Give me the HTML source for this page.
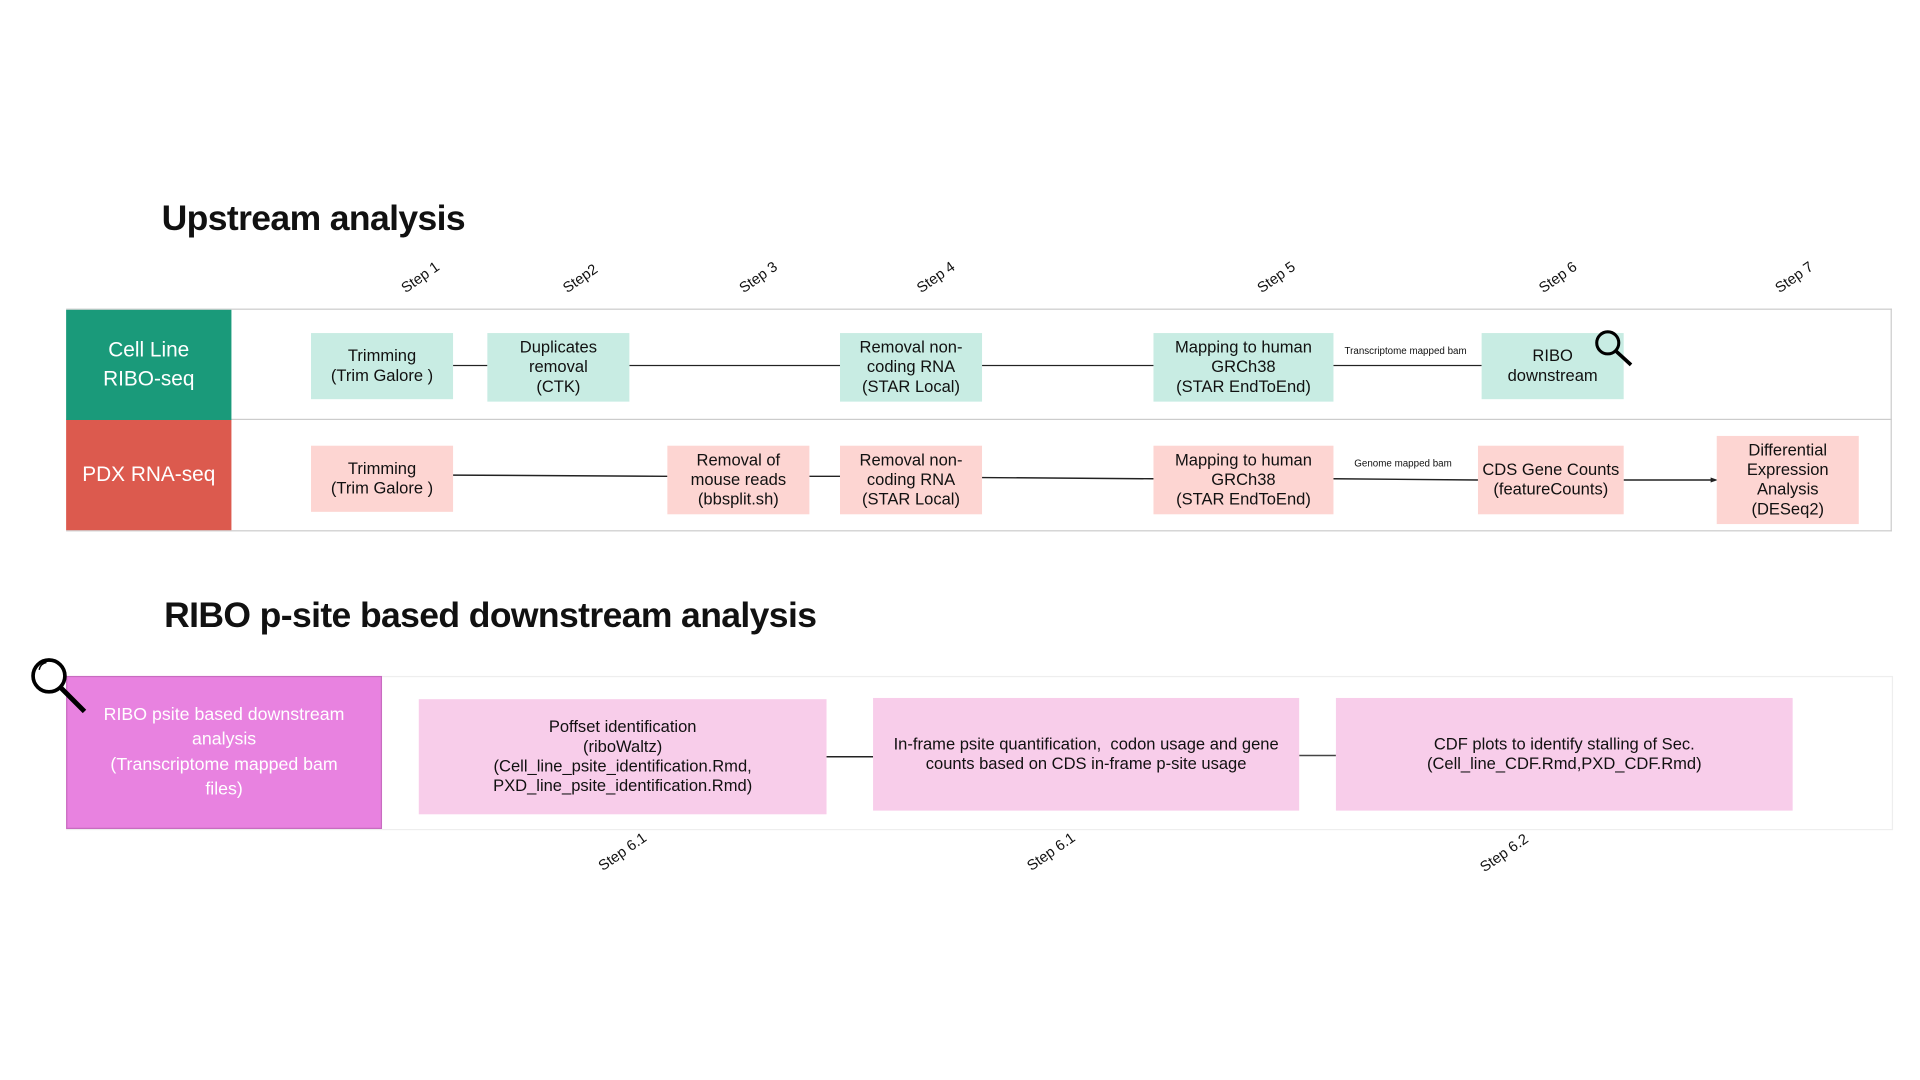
<!DOCTYPE html>
<html><head><meta charset="utf-8"><style>
html,body{margin:0;padding:0;background:#fff;width:1920px;height:1080px;overflow:hidden}
#w{position:absolute;left:0;top:0;width:1568px;height:882px;transform:scale(1.22449);transform-origin:0 0;font-family:"Liberation Sans",sans-serif;color:#111}
.a{position:absolute}
.b{position:absolute;display:flex;align-items:center;justify-content:center;text-align:center;font-size:13.5px;line-height:16px}
.g{background:#c8ece3}.p{background:#fdd5d2}.m{background:#f8cdea}
.h{position:absolute;font-weight:bold;font-size:29px;letter-spacing:-0.5px}
.s{position:absolute;font-size:12px;transform:rotate(-35deg);transform-origin:0 100%;white-space:nowrap}
.l{position:absolute;height:1.3px;background:#222}
</style></head><body><div id="w">
<div class="h" style="left:132px;top:163px">Upstream analysis</div>
<div class="s" style="left:333px;top:228px">Step 1</div>
<div class="s" style="left:465px;top:228px">Step2</div>
<div class="s" style="left:609px;top:228px">Step 3</div>
<div class="s" style="left:754px;top:228px">Step 4</div>
<div class="s" style="left:1032px;top:228px">Step 5</div>
<div class="s" style="left:1262px;top:228px">Step 6</div>
<div class="s" style="left:1455px;top:228px">Step 7</div>

<div class="a" style="left:54px;top:252px;width:1490px;height:180px;border:1px solid #ccc;border-left:none"></div>
<div class="a" style="left:54px;top:342px;width:1491px;height:1px;background:#ccc"></div>
<div class="b" style="left:54px;top:253px;width:135px;height:90px;background:#1a9a7a;color:#fff;font-size:17px;line-height:24px">Cell Line<br>RIBO-seq</div>
<div class="b" style="left:54px;top:343px;width:135px;height:90px;background:#dc5a4e;color:#fff;font-size:17px">PDX RNA-seq</div>

<div class="l" style="left:370px;top:298px;width:28px"></div>
<div class="l" style="left:514px;top:298px;width:172px"></div>
<div class="l" style="left:802px;top:298px;width:140px"></div>
<div class="l" style="left:1089px;top:298px;width:121px"></div>
<div class="a" style="left:1098px;top:282px;font-size:8px">Transcriptome mapped bam</div>
<div class="b g" style="left:254px;top:272px;width:116px;height:54px">Trimming<br>(Trim Galore )</div>
<div class="b g" style="left:398px;top:272px;width:116px;height:56px">Duplicates<br>removal<br>(CTK)</div>
<div class="b g" style="left:686px;top:272px;width:116px;height:56px">Removal non-<br>coding RNA<br>(STAR Local)</div>
<div class="b g" style="left:942px;top:272px;width:147px;height:56px">Mapping to human<br>GRCh38<br>(STAR EndToEnd)</div>
<div class="b g" style="left:1210px;top:272px;width:116px;height:54px">RIBO<br>downstream</div>
<svg class="a" style="left:1300px;top:268px" width="36" height="34"><circle cx="13" cy="12" r="9" fill="none" stroke="#000" stroke-width="2.5"/><line x1="20" y1="19" x2="32" y2="30" stroke="#000" stroke-width="3"/></svg>

<svg class="a" style="left:0;top:0" width="1568" height="882">
<line x1="370" y1="388" x2="545" y2="389" stroke="#222" stroke-width="1.2"/>
<line x1="661" y1="389" x2="686" y2="389" stroke="#222" stroke-width="1.2"/>
<line x1="802" y1="390" x2="942" y2="391" stroke="#222" stroke-width="1.2"/>
<line x1="1089" y1="391" x2="1207" y2="392" stroke="#222" stroke-width="1.2"/>
<line x1="1326" y1="392" x2="1400" y2="392" stroke="#222" stroke-width="1.2"/>
<polygon points="1403,392 1397,390 1397,394" fill="#222"/>
<line x1="675" y1="618" x2="713" y2="618" stroke="#222" stroke-width="1.2"/>
<line x1="1061" y1="617" x2="1091" y2="617" stroke="#444" stroke-width="1.2"/>
</svg>
<div class="a" style="left:1106px;top:374px;font-size:8px">Genome mapped bam</div>
<div class="b p" style="left:254px;top:364px;width:116px;height:54px">Trimming<br>(Trim Galore )</div>
<div class="b p" style="left:545px;top:364px;width:116px;height:56px">Removal of<br>mouse reads<br>(bbsplit.sh)</div>
<div class="b p" style="left:686px;top:364px;width:116px;height:56px">Removal non-<br>coding RNA<br>(STAR Local)</div>
<div class="b p" style="left:942px;top:364px;width:147px;height:56px">Mapping to human<br>GRCh38<br>(STAR EndToEnd)</div>
<div class="b p" style="left:1207px;top:364px;width:119px;height:56px">CDS Gene Counts<br>(featureCounts)</div>
<div class="b p" style="left:1402px;top:356px;width:116px;height:72px">Differential<br>Expression<br>Analysis<br>(DESeq2)</div>

<div class="h" style="left:134px;top:487px">RIBO p-site based downstream analysis</div>
<div class="a" style="left:54px;top:552px;width:1490px;height:124px;border:1px solid #eee"></div>
<div class="b" style="left:54px;top:552px;width:258px;height:125px;background:#e882e0;color:#fff;font-size:14.5px;line-height:20.5px;box-shadow:inset 0 0 0 1px #c86cc0">RIBO psite based downstream<br>analysis<br>(Transcriptome mapped bam<br>files)</div>
<svg class="a" style="left:22px;top:535px" width="52" height="52"><circle cx="18" cy="17" r="13" fill="none" stroke="#000" stroke-width="3"/><path d="M10 12 Q11 7 16 6" fill="none" stroke="#000" stroke-width="1.2"/><line x1="28" y1="27" x2="47" y2="46" stroke="#000" stroke-width="4"/></svg>
<div class="b m" style="left:342px;top:571px;width:333px;height:94px">Poffset identification<br>(riboWaltz)<br>(Cell_line_psite_identification.Rmd,<br>PXD_line_psite_identification.Rmd)</div>
<div class="b m" style="left:713px;top:570px;width:348px;height:92px">In-frame psite quantification,&nbsp; codon usage and gene<br>counts based on CDS in-frame p-site usage</div>
<div class="b m" style="left:1091px;top:570px;width:373px;height:92px">CDF plots to identify stalling of Sec.<br>(Cell_line_CDF.Rmd,PXD_CDF.Rmd)</div>
<div class="s" style="left:494px;top:700px">Step 6.1</div>
<div class="s" style="left:844px;top:700px">Step 6.1</div>
<div class="s" style="left:1214px;top:701px">Step 6.2</div>
</div></body></html>
